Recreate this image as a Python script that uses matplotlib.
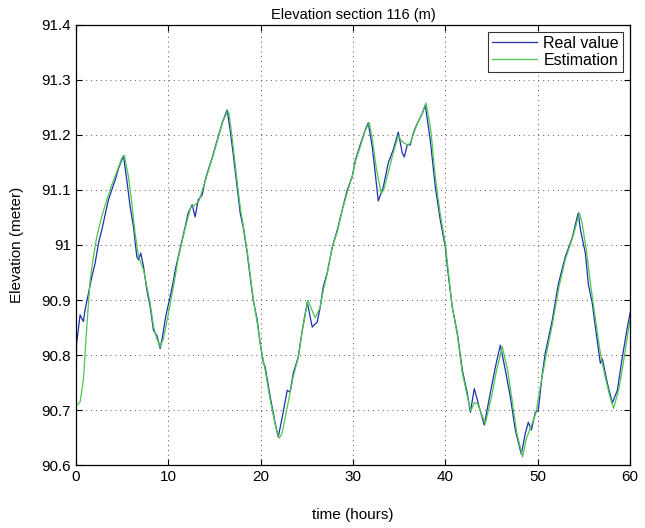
import numpy as np
import matplotlib
matplotlib.use("Agg")
from matplotlib import pyplot as plt
from matplotlib.ticker import FormatStrFormatter, MultipleLocator

plt.rcParams['font.family'] = ['Liberation Sans', 'DejaVu Sans']

# Real value (hours, meters)
real_t = [0.0, 0.05, 0.43, 0.79, 0.97, 1.34, 1.7, 2.06, 2.42, 2.78, 3.14, 3.5, 3.86, 4.23, 4.59,
          5.13, 5.49, 5.85, 6.21, 6.57, 6.75, 7.0, 7.3, 7.66, 8.02, 8.38, 8.74, 9.1, 9.35, 9.7,
          10.18, 10.54, 10.73, 11.05, 11.48, 11.81, 12.13, 12.57, 12.89, 13.22, 13.65, 13.98,
          14.3, 14.73, 15.06, 15.38, 15.82, 16.14, 16.36, 16.68, 17.0, 17.44, 17.77, 18.09,
          18.53, 18.85, 19.18, 19.61, 19.93, 20.26, 20.48, 21.02, 21.56, 21.89, 22.32, 22.86,
          23.18, 23.51, 24.05, 24.49, 25.03, 25.35, 25.57, 26.11, 26.44, 26.76, 27.19, 27.74,
          28.28, 28.82, 29.36, 29.9, 30.23, 30.77, 31.31, 31.64, 32.07, 32.39, 32.72, 33.26,
          33.8, 34.34, 34.89, 35.32, 35.54, 35.86, 36.19, 36.51, 36.95, 37.49, 37.81, 38.35,
          38.9, 39.44, 39.98, 40.2, 40.74, 41.28, 41.82, 42.36, 42.69, 43.12, 43.55, 44.2,
          44.85, 45.4, 45.94, 46.48, 47.02, 47.56, 48.21, 48.65, 48.97, 49.3, 49.73, 50.05,
          50.49, 50.81, 51.57, 52.22, 52.98, 53.74, 54.28, 54.39, 54.6, 55.15, 55.47, 55.9,
          56.23, 56.77, 56.99, 57.53, 58.07, 58.61, 59.15, 59.7, 60.0]
real_h = [90.72, 90.82, 90.873, 90.861, 90.882, 90.912, 90.942, 90.967, 91.003, 91.027, 91.055,
          91.082, 91.1, 91.118, 91.139, 91.162, 91.118, 91.07, 91.033, 90.979, 90.973, 90.985,
          90.961, 90.918, 90.888, 90.845, 90.836, 90.812, 90.833, 90.87, 90.906, 90.935, 90.954,
          90.978, 91.009, 91.033, 91.058, 91.073, 91.051, 91.082, 91.091, 91.118, 91.136, 91.158,
          91.178, 91.196, 91.222, 91.236, 91.245, 91.209, 91.167, 91.105, 91.058, 91.033, 90.985,
          90.942, 90.9, 90.864, 90.822, 90.787, 90.778, 90.724, 90.676, 90.651, 90.687, 90.736,
          90.733, 90.767, 90.796, 90.845, 90.896, 90.869, 90.851, 90.86, 90.887, 90.924, 90.949,
          90.996, 91.027, 91.064, 91.1, 91.124, 91.154, 91.182, 91.209, 91.222, 91.178, 91.131,
          91.08, 91.105, 91.149, 91.173, 91.205, 91.167, 91.16, 91.182, 91.182, 91.203, 91.221,
          91.239, 91.254, 91.191, 91.105, 91.045, 90.996, 90.96, 90.887, 90.84, 90.773, 90.731,
          90.696, 90.739, 90.712, 90.673, 90.731, 90.778, 90.818, 90.773, 90.724, 90.664, 90.62,
          90.658, 90.678, 90.664, 90.696, 90.699, 90.767, 90.804, 90.864, 90.929, 90.979, 91.014,
          91.052, 91.058, 91.029, 90.985, 90.929, 90.894, 90.851, 90.785, 90.793, 90.749, 90.713,
          90.736, 90.796, 90.851, 90.877]

# Estimation
est_t = [0.0, 0.07, 0.43, 0.79, 0.97, 1.16, 1.52, 1.88, 2.24, 2.78, 3.32, 3.86, 4.41, 4.95, 5.24,
         5.67, 6.03, 6.39, 6.75, 7.3, 7.66, 8.02, 8.38, 8.74, 9.1, 9.46, 10.0, 10.54, 11.05, 11.8,
         12.4, 12.9, 13.3, 13.9, 14.7, 15.4, 15.9, 16.4, 16.55, 16.9, 17.44, 17.8, 18.1, 18.6,
         19.2, 19.6, 20.0, 20.5, 21.0, 21.6, 22.0, 22.3, 22.86, 23.5, 24.05, 24.5, 25.1, 25.68,
         25.9, 26.4, 26.8, 27.2, 27.7, 28.3, 28.8, 29.4, 29.9, 30.3, 30.8, 31.3, 31.75, 32.1,
         32.5, 33.04, 33.3, 33.8, 34.3, 34.89, 35.2, 35.54, 35.9, 36.2, 36.6, 37.0, 37.5, 37.9,
         38.4, 38.9, 39.4, 40.0, 40.7, 41.3, 41.8, 42.3, 42.75, 43.12, 43.5, 44.3, 45.0, 45.5,
         46.15, 46.7, 47.2, 47.7, 48.35, 48.75, 49.3, 49.8, 50.3, 50.9, 51.6, 52.3, 53.0, 53.8,
         54.5, 54.8, 55.3, 55.7, 56.2, 56.8, 57.3, 57.8, 58.2, 58.8, 59.3, 59.8, 60.0]
est_h = [90.71, 90.709, 90.715, 90.755, 90.803, 90.852, 90.936, 90.979, 91.015, 91.052, 91.082,
         91.109, 91.133, 91.158, 91.162, 91.124, 91.076, 91.021, 90.979, 90.955, 90.924, 90.894,
         90.852, 90.83, 90.815, 90.83, 90.876, 90.924, 90.975, 91.03, 91.068, 91.073, 91.08,
         91.112, 91.155, 91.195, 91.225, 91.243, 91.24, 91.194, 91.115, 91.065, 91.036, 90.98,
         90.9, 90.86, 90.815, 90.77, 90.72, 90.67, 90.649, 90.658, 90.705, 90.76, 90.795, 90.845,
         90.9, 90.876, 90.868, 90.885, 90.92, 90.948, 90.994, 91.025, 91.062, 91.098, 91.125,
         91.155, 91.18, 91.208, 91.222, 91.19, 91.14, 91.094, 91.1, 91.131, 91.165, 91.199,
         91.19, 91.185, 91.182, 91.185, 91.205, 91.222, 91.24, 91.258, 91.21, 91.124, 91.06,
         91.0, 90.89, 90.835, 90.77, 90.73, 90.698, 90.714, 90.711, 90.675, 90.725, 90.77,
         90.815, 90.775, 90.72, 90.66, 90.615, 90.648, 90.672, 90.695, 90.745, 90.8, 90.858,
         90.925, 90.975, 91.015, 91.058, 91.04, 90.985, 90.93, 90.87, 90.8, 90.76, 90.725,
         90.703, 90.74, 90.79, 90.845, 90.865]

fig = plt.figure(figsize=(6.45, 5.28), dpi=100)
ax = fig.add_axes([0.118, 0.119, 0.859, 0.834])

ax.plot(real_t, real_h, '-', color='#1f2fb0', lw=0.9, label='Real value')
ax.plot(est_t, est_h, '-', color='#4cc84c', lw=0.9, label='Estimation')

ax.set_xlim(0, 60)
ax.set_ylim(90.6, 91.4)
ax.xaxis.set_major_locator(MultipleLocator(10))
ax.yaxis.set_major_locator(MultipleLocator(0.1))
ax.yaxis.set_major_formatter(FormatStrFormatter('%g'))
ax.tick_params(direction='in', top=True, right=True, labelsize=11, length=4, width=0.8)
ax.grid(True, linestyle=(0, (1, 4)), color='#555555', linewidth=0.7)
for s in ax.spines.values():
    s.set_linewidth(0.9)

ax.set_title('Elevation section 116 (m)', fontsize=10.5, pad=4)
ax.set_xlabel('time (hours)', fontsize=11, labelpad=17)
ax.set_ylabel('Elevation (meter)', fontsize=11, labelpad=13)

leg = ax.legend(loc='upper right', fontsize=11.5, fancybox=False, edgecolor='black',
                borderaxespad=0.45, handlelength=2.8, borderpad=0.25, labelspacing=0.1,
                handletextpad=0.4)
leg.get_frame().set_linewidth(0.8)

fig.savefig('out.png', dpi=100)
